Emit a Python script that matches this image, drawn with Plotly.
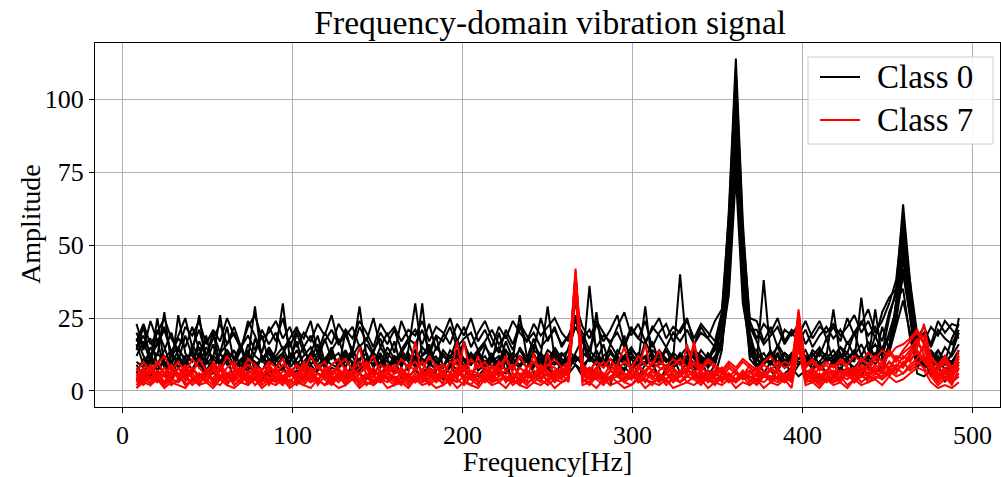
import plotly.graph_objects as go

freq_hz = [
    8.2, 12.3, 16.4, 20.5, 24.6, 28.7, 32.8, 36.9, 41.0, 45.1,
    49.2, 53.3, 57.4, 61.5, 65.6, 69.7, 73.8, 77.9, 82.0, 86.1,
    90.2, 94.3, 98.4, 102.5, 106.6, 110.7, 114.8, 118.9, 123.0, 127.1,
    131.2, 135.3, 139.4, 143.5, 147.6, 151.7, 155.8, 159.9, 164.0, 168.1,
    172.2, 176.3, 180.4, 184.5, 188.6, 192.7, 196.8, 200.9, 205.0, 209.1,
    213.2, 217.3, 221.4, 225.5, 229.6, 233.7, 237.8, 241.9, 246.0, 250.1,
    254.2, 258.3, 262.4, 266.5, 270.6, 274.7, 278.8, 282.9, 287.0, 291.1,
    295.2, 299.3, 303.4, 307.5, 311.6, 315.7, 319.8, 323.9, 328.0, 332.1,
    336.2, 340.3, 344.4, 348.5, 352.6, 356.7, 360.8, 364.9, 369.0, 373.1,
    377.2, 381.3, 385.4, 389.5, 393.6, 397.7, 401.8, 405.9, 410.0, 414.1,
    418.2, 422.3, 426.4, 430.5, 434.6, 438.7, 442.8, 446.9, 451.0, 455.1,
    459.2, 463.3, 467.4, 471.5, 475.6, 479.7, 483.8, 487.9, 492.0,
]

# ---- Class 0 samples ----
c0_s1 = [23, 15, 18, 9, 14, 20, 12, 7, 16, 11, 19, 8, 13, 22, 10, 15, 6, 18, 12, 9,
         14, 30, 11, 17, 8, 13, 19, 10, 15, 7, 21, 12, 16, 9, 14, 18, 11, 6, 13, 17,
         10, 15, 12, 19, 8, 14, 11, 17, 9, 13, 16, 10, 20, 12, 7, 15, 11, 18, 9, 14,
         12, 8, 15, 22, 17, 10, 14, 9, 16, 12, 19, 8, 13, 11, 17, 10, 14, 9, 12, 15,
         11, 8, 13, 10, 24, 62, 114, 58, 22, 17, 10, 14, 8, 13, 11, 16, 9, 14, 12, 18,
         10, 15, 13, 20, 12, 17, 11, 22, 14, 30, 58, 34, 9, 12, 7, 14, 10, 18, 23]
c0_s2 = [18, 12, 9, 21, 15, 8, 26, 13, 10, 17, 12, 20, 9, 14, 11, 16, 8, 13, 19, 10,
         12, 15, 9, 20, 13, 11, 16, 8, 14, 18, 10, 13, 29, 12, 9, 15, 11, 17, 8, 14,
         30, 12, 16, 9, 14, 11, 18, 10, 13, 8, 15, 12, 9, 17, 11, 14, 10, 16, 12, 8,
         15, 11, 9, 13, 18, 12, 10, 16, 8, 14, 11, 13, 9, 17, 12, 10, 15, 11, 40, 13,
         9, 14, 11, 16, 26, 55, 106, 52, 20, 11, 13, 9, 16, 12, 10, 14, 8, 12, 15, 11,
         14, 10, 17, 12, 16, 11, 19, 13, 25, 35, 64, 38, 11, 8, 13, 10, 15, 12, 25]
c0_s3 = [14, 22, 11, 17, 8, 13, 10, 19, 12, 9, 15, 11, 26, 10, 14, 8, 16, 12, 10, 15,
         11, 13, 17, 9, 12, 15, 10, 18, 11, 13, 8, 14, 10, 16, 12, 9, 15, 11, 13, 10,
         14, 11, 9, 15, 12, 10, 13, 16, 11, 14, 9, 12, 15, 10, 13, 11, 8, 14, 12, 29,
         11, 13, 10, 26, 12, 14, 11, 9, 13, 10, 12, 15, 11, 9, 14, 12, 10, 13, 11, 9,
         14, 12, 10, 15, 20, 50, 98, 47, 18, 10, 38, 12, 15, 10, 13, 11, 14, 9, 13, 10,
         12, 15, 11, 14, 10, 13, 16, 12, 20, 28, 52, 32, 12, 10, 14, 11, 9, 13, 20]
c0_s4 = [10, 8, 15, 12, 27, 9, 14, 11, 7, 13, 10, 16, 8, 12, 9, 14, 11, 29, 10, 13,
         8, 12, 10, 14, 9, 11, 13, 8, 12, 10, 14, 9, 11, 13, 8, 12, 10, 9, 14, 11,
         12, 9, 13, 10, 8, 12, 14, 11, 9, 13, 10, 12, 8, 14, 11, 26, 12, 9, 13, 10,
         9, 12, 14, 11, 10, 36, 12, 9, 13, 11, 10, 14, 12, 9, 11, 13, 10, 12, 9, 11,
         13, 10, 12, 9, 18, 45, 92, 42, 15, 14, 9, 12, 10, 13, 11, 9, 12, 10, 14, 12,
         28, 11, 13, 10, 32, 14, 12, 15, 18, 26, 45, 30, 13, 9, 11, 14, 10, 12, 16]
c0_s5 = [6, 11, 8, 13, 10, 7, 12, 9, 14, 8, 11, 7, 13, 9, 10, 8, 12, 10, 7, 11,
         9, 7, 12, 8, 10, 13, 7, 11, 9, 8, 12, 10, 7, 11, 9, 13, 8, 10, 12, 7,
         11, 30, 9, 8, 12, 10, 7, 11, 9, 13, 8, 10, 12, 7, 11, 9, 10, 8, 13, 9,
         10, 8, 11, 9, 7, 12, 10, 8, 11, 9, 12, 7, 10, 29, 9, 11, 8, 10, 12, 9,
         7, 10, 9, 12, 16, 40, 86, 38, 14, 8, 11, 9, 12, 8, 10, 9, 11, 8, 10, 13,
         9, 12, 10, 8, 11, 9, 13, 10, 16, 24, 40, 26, 10, 8, 9, 12, 7, 10, 13]
c0_s6 = [16, 9, 13, 7, 11, 14, 8, 12, 10, 15, 7, 11, 9, 13, 8, 10, 14, 7, 12, 9,
         11, 8, 13, 10, 7, 12, 9, 11, 14, 8, 10, 12, 7, 9, 11, 8, 13, 10, 9, 12,
         8, 11, 10, 7, 13, 9, 12, 8, 11, 10, 9, 13, 7, 11, 10, 8, 12, 9, 11, 7,
         13, 10, 8, 12, 9, 11, 27, 10, 8, 12, 9, 11, 8, 10, 13, 9, 11, 8, 10, 12,
         9, 12, 8, 11, 15, 36, 80, 34, 12, 11, 9, 13, 10, 8, 12, 10, 9, 11, 8, 10,
         12, 9, 11, 13, 10, 12, 9, 14, 12, 31, 35, 18, 9, 11, 8, 10, 12, 9, 11]
c0_s7 = [12, 17, 10, 25, 9, 12, 15, 10, 13, 26, 9, 12, 10, 14, 8, 11, 13, 9, 11, 14,
         10, 13, 8, 11, 15, 9, 12, 10, 13, 8, 11, 14, 9, 10, 13, 11, 8, 12, 10, 13,
         9, 12, 14, 10, 8, 12, 11, 9, 13, 10, 12, 8, 11, 14, 9, 12, 10, 13, 8, 11,
         14, 9, 12, 10, 13, 11, 9, 12, 14, 10, 11, 13, 9, 12, 10, 14, 11, 9, 13, 10,
         12, 9, 11, 14, 17, 33, 74, 30, 16, 9, 11, 10, 13, 9, 12, 11, 10, 13, 9, 11,
         10, 13, 9, 11, 12, 10, 28, 11, 13, 22, 31, 20, 11, 9, 12, 8, 11, 10, 14]
c0_s8 = [4, 7, 5, 9, 6, 4, 8, 5, 7, 10, 5, 6, 8, 4, 7, 5, 9, 6, 4, 7,
         6, 8, 5, 7, 4, 9, 6, 5, 8, 7, 5, 9, 6, 4, 7, 5, 8, 6, 7, 5,
         7, 5, 8, 6, 4, 9, 5, 7, 6, 5, 8, 4, 7, 6, 9, 5, 7, 4, 6, 8,
         5, 7, 6, 9, 5, 8, 6, 4, 7, 5, 8, 6, 4, 7, 9, 5, 6, 8, 5, 7,
         6, 4, 7, 5, 14, 48, 100, 45, 11, 8, 5, 7, 4, 6, 8, 5, 7, 6, 4, 7,
         5, 8, 6, 7, 5, 9, 6, 8, 14, 24, 48, 28, 6, 5, 7, 4, 6, 8, 7]
c0_s9 = [20, 14, 24, 17, 22, 13, 19, 25, 15, 21, 12, 18, 23, 16, 20, 14, 24, 19, 13, 22,
         17, 25, 15, 21, 18, 24, 13, 20, 16, 23, 19, 14, 22, 17, 25, 15, 20, 13, 24, 18,
         21, 16, 23, 14, 19, 25, 17, 22, 15, 20, 24, 18, 13, 21, 16, 23, 19, 14, 25, 17,
         22, 15, 19, 24, 20, 14, 23, 17, 21, 26, 16, 22, 18, 24, 15, 20, 23, 17, 21, 25,
         16, 22, 18, 24, 28, 60, 110, 55, 25, 24, 17, 22, 15, 21, 19, 23, 16, 20, 24, 18,
         22, 17, 25, 19, 23, 28, 20, 24, 30, 38, 60, 34, 18, 22, 16, 24, 20, 23, 22]
c0_s10 = [17, 23, 16, 20, 25, 18, 14, 22, 19, 24, 16, 21, 17, 25, 19, 15, 22, 26, 18, 20,
          24, 18, 22, 15, 20, 17, 23, 19, 26, 16, 21, 18, 24, 20, 15, 23, 19, 22, 17, 21,
          19, 24, 17, 22, 20, 16, 23, 19, 25, 17, 21, 15, 22, 18, 24, 20, 17, 23, 19, 22,
          25, 20, 17, 30, 22, 18, 24, 20, 16, 22, 27, 19, 23, 17, 21, 25, 18, 22, 20, 24,
          18, 23, 20, 17, 27, 52, 95, 50, 24, 18, 23, 20, 25, 17, 21, 19, 24, 18, 22, 20,
          23, 19, 22, 26, 20, 24, 18, 27, 32, 35, 55, 38, 20, 17, 22, 19, 24, 21, 18]
c0_s11 = [9, 5, 12, 7, 10, 4, 11, 8, 6, 12, 5, 9, 7, 11, 4, 8, 10, 6, 12, 5,
          8, 11, 6, 9, 4, 12, 7, 10, 5, 9, 13, 6, 8, 11, 5, 10, 7, 12, 4, 9,
          11, 6, 9, 12, 5, 8, 10, 4, 12, 7, 9, 11, 6, 10, 3, 9, 12, 6, 8, 11,
          5, 10, 7, 12, 9, 6, 11, 4, 2, 10, 7, 12, 5, 9, 11, 3, 8, 12, 6, 10,
          8, 11, 5, 9, 19, 54, 103, 49, 13, 12, 6, 10, 7, 11, 5, 9, 12, 7, 10, 6,
          11, 7, 12, 5, 10, 8, 13, 6, 15, 27, 42, 25, 8, 11, 5, 9, 3, 10, 12]
c0_s12 = [15, 19, 12, 16, 21, 13, 18, 15, 22, 14, 17, 20, 13, 16, 22, 15, 19, 14, 21, 16,
          20, 14, 18, 22, 15, 19, 13, 17, 21, 16, 19, 22, 15, 18, 13, 20, 16, 21, 14, 18,
          16, 21, 14, 19, 17, 22, 15, 18, 20, 14, 17, 21, 16, 19, 14, 22, 17, 20, 15, 18,
          21, 16, 19, 24, 18, 21, 15, 19, 17, 20, 15, 21, 18, 16, 22, 19, 15, 20, 17, 21,
          16, 20, 18, 15, 25, 46, 88, 44, 21, 21, 16, 19, 22, 16, 20, 17, 21, 15, 19, 22,
          18, 21, 16, 20, 24, 19, 22, 17, 27, 33, 50, 32, 17, 20, 15, 21, 18, 16, 21]

# ---- Class 7 samples ----
c7_s1 = [3, 6, 2, 5, 8, 4, 3, 7, 5, 2, 6, 4, 9, 3, 5, 7, 2, 6, 4, 3,
         7, 5, 3, 6, 4, 8, 2, 5, 3, 6, 4, 7, 15, 5, 3, 6, 4, 2, 7, 5,
         3, 6, 4, 8, 5, 3, 7, 4, 2, 6, 5, 3, 8, 4, 6, 3, 5, 7, 4, 6,
         3, 5, 8, 42, 6, 4, 7, 3, 5, 6, 4, 8, 3, 5, 7, 4, 6, 3, 5, 8,
         4, 6, 3, 5, 7, 4, 3, 6, 5, 4, 7, 3, 5, 6, 4, 28, 6, 4, 3, 7,
         5, 4, 6, 3, 8, 5, 7, 4, 6, 9, 8, 12, 15, 23, 10, 6, 4, 7, 9]
c7_s2 = [5, 3, 7, 4, 2, 6, 5, 3, 8, 4, 7, 3, 5, 6, 2, 4, 7, 5, 3, 6,
         4, 2, 6, 5, 3, 7, 4, 6, 3, 5, 2, 8, 4, 6, 3, 5, 7, 4, 2, 6,
         17, 4, 6, 3, 5, 2, 7, 4, 6, 3, 5, 4, 7, 3, 5, 6, 3, 4, 7, 5,
         6, 4, 9, 40, 5, 7, 4, 6, 3, 8, 5, 4, 6, 3, 7, 5, 4, 6, 3, 5,
         7, 4, 5, 3, 6, 5, 4, 7, 3, 6, 5, 4, 8, 5, 3, 24, 5, 7, 4, 6,
         4, 7, 5, 8, 6, 9, 6, 10, 7, 12, 11, 14, 18, 12, 8, 5, 7, 4, 12]
c7_s3 = [2, 5, 4, 7, 3, 5, 6, 2, 4, 5, 3, 7, 4, 2, 6, 3, 5, 4, 7, 2,
         5, 3, 6, 4, 2, 5, 3, 7, 4, 5, 3, 6, 2, 4, 5, 3, 6, 4, 3, 5,
         4, 6, 3, 5, 7, 4, 17, 3, 5, 4, 6, 3, 5, 7, 4, 2, 6, 3, 5, 4,
         7, 5, 6, 38, 4, 3, 6, 5, 4, 7, 3, 5, 4, 6, 5, 3, 6, 4, 5, 16,
         5, 3, 6, 4, 5, 3, 6, 4, 5, 3, 6, 4, 5, 3, 6, 21, 4, 5, 3, 6,
         3, 5, 4, 6, 3, 5, 4, 7, 5, 8, 6, 9, 11, 16, 7, 4, 6, 3, 5]
c7_s4 = [4, 2, 5, 3, 6, 2, 4, 5, 3, 6, 4, 2, 5, 3, 4, 6, 3, 5, 2, 4,
         3, 5, 2, 4, 6, 3, 4, 2, 5, 3, 6, 4, 3, 5, 2, 4, 3, 5, 4, 2,
         5, 3, 4, 6, 2, 4, 3, 5, 4, 2, 6, 3, 4, 5, 3, 4, 2, 5, 3, 13,
         4, 3, 5, 36, 3, 5, 4, 2, 5, 3, 4, 6, 3, 4, 2, 5, 3, 4, 6, 3,
         5, 3, 4, 2, 5, 4, 3, 5, 2, 4, 3, 5, 4, 3, 5, 18, 4, 3, 5, 4,
         3, 4, 6, 3, 5, 4, 6, 5, 8, 6, 10, 7, 9, 12, 6, 3, 5, 2, 8]
c7_s5 = [6, 4, 8, 5, 3, 7, 5, 9, 4, 6, 3, 8, 5, 4, 7, 5, 3, 8, 6, 4,
         8, 5, 7, 4, 9, 5, 6, 4, 7, 5, 8, 4, 6, 9, 5, 7, 4, 6, 8, 5,
         4, 7, 5, 9, 6, 4, 8, 5, 7, 6, 4, 8, 5, 12, 6, 4, 7, 5, 8, 6,
         5, 8, 6, 41, 7, 5, 8, 6, 4, 9, 6, 5, 8, 6, 4, 7, 9, 5, 7, 6,
         17, 5, 7, 6, 8, 5, 7, 4, 6, 8, 5, 7, 6, 4, 8, 26, 7, 5, 8, 6,
         7, 5, 8, 6, 9, 7, 11, 8, 13, 10, 14, 17, 20, 16, 9, 7, 10, 6, 14]
c7_s6 = [1, 4, 3, 6, 2, 4, 3, 5, 2, 4, 6, 3, 2, 5, 4, 3, 6, 2, 4, 3,
         5, 3, 4, 2, 5, 3, 6, 4, 2, 5, 3, 4, 6, 2, 4, 3, 5, 3, 4, 6,
         3, 5, 2, 4, 3, 6, 4, 2, 5, 3, 4, 6, 3, 5, 2, 4, 3, 13, 4, 2,
         4, 6, 3, 35, 4, 2, 5, 3, 4, 5, 3, 2, 5, 4, 3, 5, 2, 4, 3, 5,
         4, 2, 5, 3, 4, 6, 3, 5, 4, 2, 5, 4, 3, 5, 4, 16, 3, 4, 2, 5,
         3, 5, 2, 4, 6, 3, 5, 4, 7, 5, 6, 8, 10, 8, 5, 2, 4, 3, 6]
c7_s7 = [8, 5, 7, 10, 6, 9, 5, 8, 6, 11, 7, 9, 5, 8, 10, 6, 9, 7, 5, 8,
         6, 9, 7, 5, 10, 7, 8, 6, 9, 11, 7, 5, 8, 10, 6, 9, 7, 8, 5, 9,
         7, 10, 6, 8, 9, 6, 11, 7, 5, 9, 8, 6, 10, 7, 9, 5, 8, 10, 6, 9,
         8, 6, 10, 39, 9, 6, 8, 10, 7, 9, 15, 7, 9, 6, 10, 8, 7, 9, 11, 8,
         9, 7, 10, 8, 6, 9, 7, 10, 8, 6, 9, 7, 10, 8, 9, 25, 8, 10, 7, 9,
         6, 10, 8, 7, 11, 9, 12, 10, 14, 11, 13, 15, 17, 19, 12, 8, 11, 7, 10]
c7_s8 = [3, 7, 4, 6, 5, 3, 8, 4, 6, 3, 5, 7, 4, 6, 3, 8, 5, 4, 6, 3,
         6, 4, 7, 3, 5, 8, 4, 6, 3, 7, 5, 4, 6, 8, 3, 5, 7, 4, 6, 3,
         5, 3, 7, 4, 6, 5, 3, 17, 4, 6, 3, 5, 7, 4, 6, 3, 5, 4, 7, 3,
         6, 5, 7, 37, 5, 4, 6, 3, 7, 5, 4, 6, 3, 5, 7, 4, 6, 5, 3, 6,
         16, 4, 5, 7, 3, 6, 4, 5, 7, 3, 6, 5, 4, 6, 3, 22, 5, 4, 6, 3,
         5, 3, 7, 4, 6, 5, 8, 6, 10, 7, 9, 11, 13, 10, 7, 4, 6, 5, 9]
c7_s9 = [7, 10, 6, 9, 12, 7, 10, 6, 11, 8, 5, 10, 7, 12, 8, 6, 11, 9, 7, 10,
         8, 11, 6, 9, 7, 12, 8, 10, 6, 9, 11, 7, 10, 8, 12, 6, 9, 7, 11, 8,
         10, 7, 12, 8, 6, 10, 9, 7, 11, 8, 10, 6, 9, 11, 7, 12, 8, 10, 6, 9,
         11, 8, 10, 40, 9, 7, 10, 8, 11, 7, 10, 8, 12, 9, 7, 10, 8, 11, 9, 7,
         10, 8, 11, 9, 7, 10, 8, 11, 9, 7, 10, 12, 8, 10, 9, 27, 9, 11, 8, 10,
         8, 11, 9, 12, 10, 13, 11, 14, 12, 15, 16, 18, 21, 17, 11, 9, 12, 8, 11]
c7_s10 = [1, 3, 2, 4, 1, 3, 2, 1, 4, 2, 3, 1, 4, 2, 1, 3, 2, 4, 1, 3,
          2, 4, 1, 3, 2, 1, 4, 2, 3, 1, 2, 4, 1, 3, 2, 4, 1, 2, 3, 1,
          4, 2, 3, 1, 2, 4, 1, 3, 2, 1, 4, 2, 3, 1, 4, 2, 1, 3, 2, 4,
          1, 3, 4, 34, 2, 3, 1, 4, 2, 3, 1, 2, 4, 1, 3, 2, 4, 1, 2, 3,
          2, 4, 1, 3, 2, 4, 1, 3, 2, 4, 1, 3, 2, 4, 1, 15, 2, 3, 1, 4,
          2, 3, 1, 4, 2, 3, 4, 2, 5, 3, 4, 6, 8, 7, 3, 1, 2, 1, 3]
c7_s11 = [5, 8, 4, 7, 5, 9, 4, 6, 8, 5, 7, 4, 9, 6, 5, 8, 4, 7, 5, 9,
          6, 4, 8, 5, 7, 4, 9, 6, 5, 8, 4, 7, 6, 9, 5, 4, 8, 6, 7, 4,
          8, 5, 7, 4, 9, 6, 5, 8, 4, 12, 6, 9, 5, 7, 4, 8, 6, 5, 9, 7,
          5, 7, 6, 39, 8, 4, 7, 5, 9, 6, 4, 8, 5, 7, 9, 14, 6, 8, 5, 7,
          6, 9, 5, 7, 4, 8, 6, 5, 9, 7, 5, 8, 6, 4, 7, 20, 6, 8, 5, 7,
          9, 6, 8, 5, 7, 9, 6, 10, 8, 11, 9, 13, 16, 14, 9, 6, 8, 5, 10]
c7_s12 = [4, 6, 9, 5, 3, 7, 6, 4, 8, 5, 6, 3, 7, 5, 9, 4, 6, 8, 5, 7,
          3, 7, 5, 9, 4, 6, 3, 8, 5, 4, 7, 6, 3, 5, 8, 4, 6, 9, 5, 3,
          6, 4, 8, 5, 7, 3, 6, 9, 5, 4, 7, 5, 8, 3, 6, 4, 7, 5, 9, 6,
          4, 7, 5, 37, 6, 8, 5, 4, 7, 5, 6, 4, 7, 16, 5, 6, 4, 7, 5, 8,
          5, 7, 4, 6, 8, 5, 4, 6, 7, 5, 6, 4, 7, 5, 6, 23, 5, 6, 4, 7,
          6, 4, 7, 5, 8, 6, 9, 7, 10, 8, 12, 10, 14, 11, 8, 5, 7, 4, 10]

class0_samples = [c0_s1, c0_s2, c0_s3, c0_s4, c0_s5, c0_s6,
                  c0_s7, c0_s8, c0_s9, c0_s10, c0_s11, c0_s12]
class7_samples = [c7_s1, c7_s2, c7_s3, c7_s4, c7_s5, c7_s6,
                  c7_s7, c7_s8, c7_s9, c7_s10, c7_s11, c7_s12]
legend_labels = ["Class 0", "Class 7"]
class_colors = ["#000000", "#ff0000"]

FONT = "Liberation Serif, Times New Roman, serif"
W, H = 1001, 477
PL, PR, PT, PB = 95, 1000, 43, 407   # plot-area pixel box


def px_x(px):
    return (px - PL) / (PR - PL)


def px_y(py):
    return 1 - (py - PT) / (PB - PT)


fig = go.Figure()
for label, color, samples in zip(legend_labels, class_colors,
                                 [class0_samples, class7_samples]):
    for ys in samples:
        fig.add_trace(go.Scatter(
            x=freq_hz[:len(ys)], y=ys, mode="lines",
            line=dict(color=color, width=2),
            name=label, legendgroup=label, showlegend=False,
        ))

axis_common = dict(
    showline=True, mirror=True, linecolor="#000000", linewidth=1,
    ticks="outside", ticklen=5, tickwidth=1, tickcolor="#000000",
    showgrid=True, gridcolor="#b0b0b0", gridwidth=1, zeroline=False,
    tickfont=dict(family=FONT, size=26, color="#000000"),
)

# matplotlib-style legend box drawn in paper coordinates
shapes = [dict(type="rect", xref="paper", yref="paper",
               x0=px_x(808), x1=px_x(993), y0=px_y(144), y1=px_y(57),
               fillcolor="rgba(255,255,255,0.85)",
               line=dict(color="#cccccc", width=1), layer="above")]
annotations = [dict(text="Amplitude", xref="paper", yref="paper",
                    x=px_x(30), y=px_y(224), textangle=-90, showarrow=False,
                    xanchor="center", yanchor="middle",
                    font=dict(family=FONT, size=28, color="#000000"))]
for k, (label, color) in enumerate(zip(legend_labels, class_colors)):
    row_y = 77 + 43 * k
    shapes.append(dict(type="line", xref="paper", yref="paper",
                       x0=px_x(820), x1=px_x(860), y0=px_y(row_y), y1=px_y(row_y),
                       line=dict(color=color, width=2), layer="above"))
    annotations.append(dict(text=label, xref="paper", yref="paper",
                            x=px_x(875), y=px_y(row_y), showarrow=False,
                            xanchor="left", yanchor="middle",
                            font=dict(family=FONT, size=33, color="#000000")))

fig.update_layout(
    width=W, height=H,
    margin=dict(l=PL, r=W - PR, t=PT, b=H - PB),
    paper_bgcolor="#ffffff", plot_bgcolor="#ffffff",
    title=dict(text="Frequency-domain vibration signal", x=0.503, xref="paper",
               y=1 - 22 / H, yref="container", yanchor="middle", xanchor="center",
               font=dict(family=FONT, size=33.6, color="#000000")),
    xaxis=dict(range=[-16.2, 516.2], tickvals=[0, 100, 200, 300, 400, 500],
               title=dict(text="Frequency[Hz]", standoff=3,
                          font=dict(family=FONT, size=28, color="#000000")),
               **axis_common),
    yaxis=dict(range=[-5.5, 119.3], tickvals=[0, 25, 50, 75, 100], **axis_common),
    shapes=shapes,
    annotations=annotations,
    showlegend=False,
)

fig.write_html("out.html")
